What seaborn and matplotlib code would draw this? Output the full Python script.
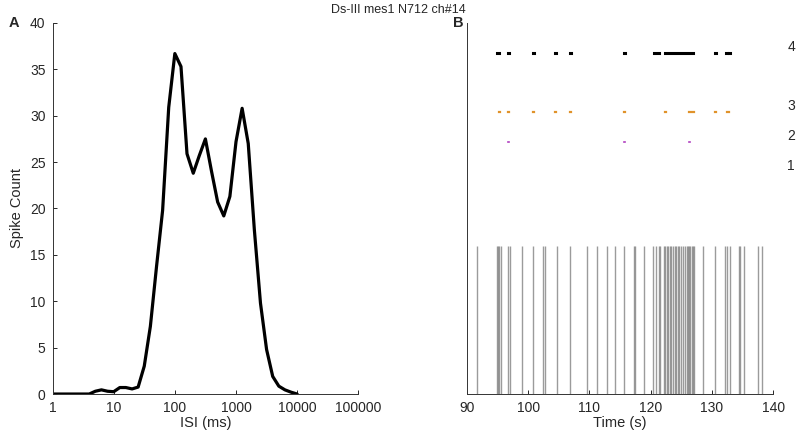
import numpy as np
import pandas as pd
import seaborn as sns
import matplotlib.pyplot as plt
from matplotlib.ticker import FixedLocator, FixedFormatter, NullLocator

# ISI histogram (log bins, 10 per decade)
isi_bins = [1, 1.26, 1.58, 2, 2.51, 3.16, 3.98, 5.01, 6.31, 7.94,
            10, 12.6, 15.8, 20, 25.1, 31.6, 39.8, 50.1, 63.1, 79.4,
            100, 126, 158, 200, 251, 316, 398, 501, 631, 794,
            1000, 1259, 1585, 1995, 2512, 3162, 3981, 5012, 6310, 7943, 10000]
isi_counts = [0, 0, 0, 0, 0, 0, 0, 0.3, 0.45, 0.3,
              0.25, 0.7, 0.7, 0.55, 0.75, 3.0, 7.3, 13.7, 19.8, 30.9,
              36.7, 35.3, 25.9, 23.8, 25.7, 27.5, 24.0, 20.7, 19.2, 21.3,
              27.2, 30.8, 27.0, 17.7, 9.8, 4.8, 1.9, 0.85, 0.45, 0.2, 0]

# spike times (s)
spike_times = [91.6, 94.85, 95.05, 95.3, 95.5, 96.65, 97.0, 99.0, 100.8, 102.4,
               102.75, 104.65, 106.9, 109.55, 111.2, 112.85, 114.2, 115.7, 117.2, 117.45,
               118.9, 120.4, 120.9, 121.3, 121.5, 122.2, 122.4, 122.6, 122.9, 123.1,
               123.3, 123.6, 123.9, 124.2, 124.5, 124.7, 125.0, 125.3, 125.6, 125.9,
               126.1, 126.3, 126.5, 126.7, 126.9, 127.0, 128.6, 130.5, 132.2, 132.5,
               132.9, 134.35, 134.6, 135.3, 137.5, 138.15]

# burst rasters per level: (start, end) in s
level4_start = [94.85, 96.7, 100.75, 104.45, 106.85, 111.15, 115.65, 120.5, 122.4, 130.45, 132.3, 132.8]
level4_end   = [95.3, 96.85, 100.9, 104.6, 107.0, 111.3, 115.8, 121.4, 126.9, 130.6, 132.4, 132.95]
level3_start = [95.25, 96.7, 100.75, 104.45, 106.85, 111.15, 115.65, 122.3, 126.3, 130.45, 132.4]
level3_end   = [95.4, 96.85, 100.9, 104.6, 107.0, 111.3, 115.8, 122.45, 127.0, 130.6, 132.8]
level2_start = [96.7, 115.65, 126.25]
level2_end   = [96.8, 115.75, 126.35]
level_labels = ["4", "3", "2", "1"]
level_y = [9.2, 7.6, 6.8, 6.0]

sns.set_style("ticks")
plt.rcParams['font.family'] = ['Liberation Sans', 'DejaVu Sans']
plt.rcParams['xtick.direction'] = 'in'
plt.rcParams['ytick.direction'] = 'in'

fig = plt.figure(figsize=(7.97, 4.33), dpi=100)
axA = fig.add_axes([0.0659, 0.090, 0.3837, 0.857])
axB = fig.add_axes([0.586, 0.090, 0.384, 0.857])

# Panel A
isi_df = pd.DataFrame({"ISI": isi_bins, "Count": isi_counts})
sns.lineplot(data=isi_df, x="ISI", y="Count", color="black", linewidth=2.3, ax=axA)
axA.set_xscale("log")
axA.set_xlim(1, 100000)
axA.set_ylim(0, 40)
xt = [1, 10, 100, 1000, 10000, 100000]
axA.xaxis.set_major_locator(FixedLocator(xt))
axA.xaxis.set_major_formatter(FixedFormatter([str(v) for v in xt]))
axA.xaxis.set_minor_locator(NullLocator())
axA.set_yticks(range(0, 41, 5))
axA.set_xlabel("ISI (ms)", fontsize=10.5, labelpad=1)
axA.set_ylabel("Spike Count", fontsize=10.5, labelpad=4)
axA.tick_params(labelsize=10, length=3, width=0.7, pad=5)
sns.despine(ax=axA)

# Panel B
axB.vlines(spike_times, 0, 4.0, color="#7a7a7a", alpha=0.75, linewidth=1.0)
axB.hlines([level_y[0]] * len(level4_start), level4_start, level4_end,
           color="black", linewidth=2.2, capstyle="projecting")
axB.hlines([level_y[1]] * len(level3_start), level3_start, level3_end,
           color="#e0922a", linewidth=1.6, capstyle="projecting")
axB.hlines([level_y[2]] * len(level2_start), level2_start, level2_end,
           color="#b040c0", linewidth=1.2, capstyle="projecting")
axB.set_xlim(90, 140)
axB.set_ylim(0, 10)
axB.set_xticks(range(90, 141, 10))
axB.set_yticks([])
axB.set_xlabel("Time (s)", fontsize=10.5, labelpad=1)
axB.tick_params(labelsize=10, length=3, width=0.7, pad=5)
sns.despine(ax=axB)
for lab, yv in zip(level_labels, level_y):
    axB.text(1.059, yv + 0.15, lab, transform=axB.get_yaxis_transform(),
             fontsize=10, ha="center", va="center")

for ax in (axA, axB):
    for s in ("left", "bottom"):
        ax.spines[s].set_linewidth(0.7)
        ax.spines[s].set_color("#333333")

fig.text(0.5, 0.977, "Ds-III mes1 N712 ch#14", ha="center", va="center", fontsize=9)
fig.text(0.011, 0.948, "A", fontweight="bold", fontsize=10.5, ha="left", va="center")
fig.text(0.568, 0.948, "B", fontweight="bold", fontsize=10.5, ha="left", va="center")

fig.savefig("out.png", dpi=100)
